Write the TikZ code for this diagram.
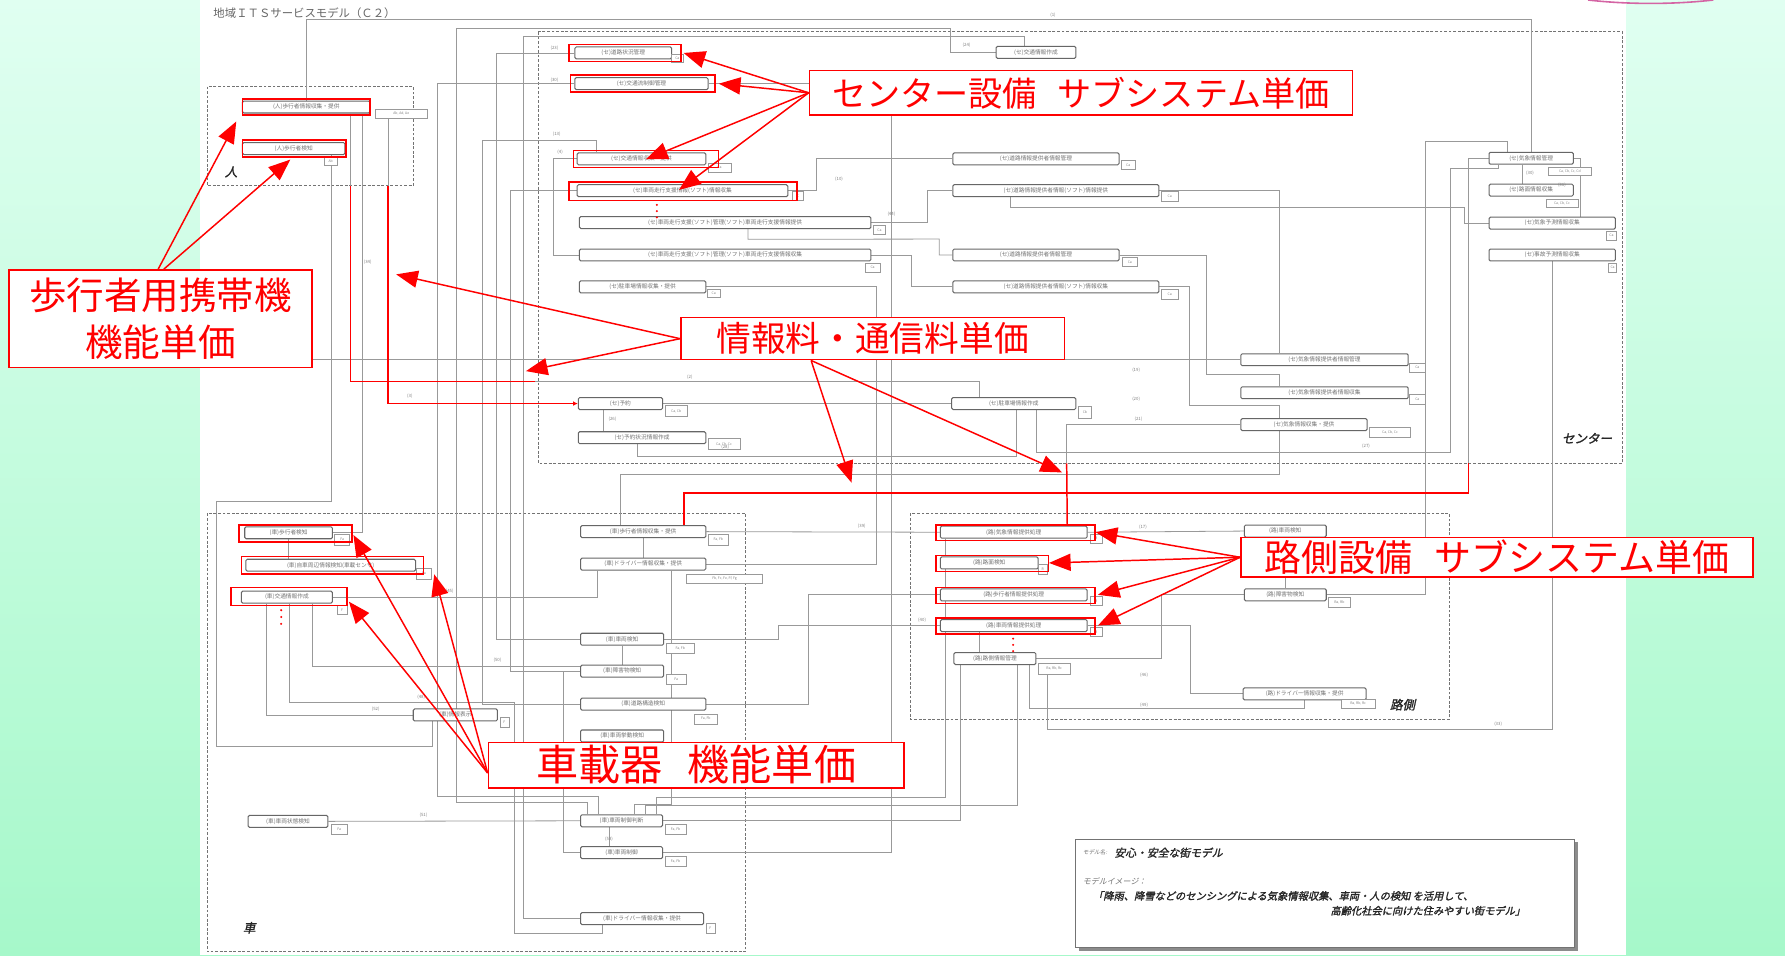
\documentclass[tikz,border=0pt]{standalone}
\usepackage{fontspec}
\setmainfont{Noto Sans CJK JP}
\newfontfamily\cjk{Noto Sans CJK JP}
\newfontfamily\cjksl[FakeSlant=0.22,FakeBold=1.6]{Noto Sans CJK JP}
\newfontfamily\cjkslt[FakeSlant=0.22]{Noto Sans CJK JP}
\usetikzlibrary{arrows.meta,shadows}
\definecolor{bgtop}{RGB}{224,255,241}
\definecolor{bgbot}{RGB}{166,248,202}
\pgfdeclarelayer{bg}\pgfdeclarelayer{wires}\pgfsetlayers{bg,wires,main}
\newcommand{\mknode}[5]{\node[fb,minimum width={#3pt-#2pt}] (#1) at ({(#2+#3)/2},#4) {#5};}
\newcommand{\mktag}[6]{\node[tg,minimum width={#3pt-#2pt},minimum height={#5pt-#4pt}] (#1) at ({(#2+#3)/2},{(#4+#5)/2}) {#6};}
\newcommand{\mkhl}[4]{\draw[hl] (#1,#2) rectangle (#3,#4);}
\tikzset{
  fb/.style={draw=black!60, line width=0.9pt, rounded corners=1.2pt, fill=white, minimum height=10.5pt, inner sep=0pt, font=\cjk\fontsize{5}{5}\selectfont, text=black!55},
  tg/.style={draw=black!40, line width=0.45pt, fill=white, inner sep=0pt, font=\cjk\fontsize{3}{3}\selectfont, text=black!50},
  ln/.style={draw=black!40, line width=0.7pt},
  rln/.style={draw=red, line width=1.3pt},
  hl/.style={draw=red, line width=1.3pt},
  rlab/.style={draw=red, line width=1.3pt, fill=white, text=red, inner sep=0pt},
  rar/.style={draw=red, line width=1.3pt, -{Triangle[length=19pt,width=15pt]}},
  region/.style={draw=black!55, line width=0.9pt, dash pattern=on 2.5pt off 1.5pt},
  lab/.style={font=\cjk\fontsize{3.8}{3.8}\selectfont, text=black!50, inner sep=0.5pt},
  zone/.style={font=\cjksl\fontsize{11}{11}\selectfont, text=black!85, inner sep=0pt}
}
\begin{document}
\begin{tikzpicture}[x=1pt,y=-1pt]
\useasboundingbox (0,0) rectangle (1568,839);
\begin{pgfonlayer}{bg}
\shade[top color=bgtop,bottom color=bgbot] (0,0) rectangle (1568,839);
\fill[white] (176,0) rectangle (1428,839);
\draw[magenta!55!violet!70, line width=1.4pt] (1395,0) .. controls (1430,4) and (1470,4) .. (1505,0);
\node[anchor=west, font=\cjk\fontsize{10}{10}\selectfont, text=black!60] (title) at (184,12) {地域ＩＴＳサービスモデル（Ｃ２）};
\draw[region] (182,76) rectangle (363,163);
\draw[region] (473,28) rectangle (1425,407);
\draw[region] (182,451) rectangle (655,836);
\draw[region] (800,451) rectangle (1273,632);
\node[zone] (zP) at (203,151) {人};
\node[zone] (zC) at (1394,385) {センター};
\node[zone] (zV) at (219,815) {車};
\node[zone] (zS) at (1232,619) {路側};
\end{pgfonlayer}

% ---------- person
\mknode{P1}{213}{325}{94}{(人)歩行者情報収集・提供}
\mknode{P2}{213}{303}{130.5}{(人)歩行者検知}
\mktag{tP1}{330}{375}{96}{104}{Ab, Ad, Ae}
\mktag{tP2}{285}{296}{138}{145}{Ab}
% ---------- center
\mknode{C1}{505}{590}{46.5}{(セ)道路状況管理}
\mknode{C2}{505}{622}{73.5}{(セ)交通流制御管理}
\mknode{C3}{507}{620}{139.5}{(セ)交通情報収集・提供}
\mknode{C4}{507}{692}{167.5}{(セ)車両走行支援情報(ソフト)情報収集}
\mknode{C5}{509}{765}{195.5}{(セ)車両走行支援(ソフト)管理(ソフト)車両走行支援情報提供}
\mknode{C6}{509}{765}{224}{(セ)車両走行支援(ソフト)管理(ソフト)車両走行支援情報収集}
\mknode{C7}{509}{620}{252}{(セ)駐車場情報収集・提供}
\mknode{C8}{508}{582}{354.5}{(セ)予約}
\mknode{C9}{508}{620}{384.5}{(セ)予約状況情報作成}
\mknode{C18}{875}{945}{46}{(セ)交通情報作成}
\mknode{C10}{837}{983}{139.5}{(セ)道路情報提供者情報管理}
\mknode{C11}{837}{1018}{167.5}{(セ)道路情報提供者情報(ソフト)情報提供}
\mknode{C12}{837}{983}{224}{(セ)道路情報提供者情報管理}
\mknode{C13}{837}{1018}{252}{(セ)道路情報提供者情報(ソフト)情報収集}
\mknode{C14}{836}{945}{354.5}{(セ)駐車場情報作成}
\mknode{C15}{1090}{1237}{316}{(セ)気象情報提供者情報管理}
\mknode{C16}{1090}{1237}{345}{(セ)気象情報提供者情報収集}
\mknode{C17}{1090}{1201}{373}{(セ)気象情報収集・提供}
\mknode{R1}{1308}{1382}{139}{(セ)気象情報管理}
\mknode{R2}{1308}{1382}{167}{(セ)路面情報収集}
\mknode{R3}{1308}{1419}{196}{(セ)気象予測情報収集}
\mknode{R4}{1308}{1419}{224}{(セ)事故予測情報収集}
\mktag{tC1}{590}{600}{48}{55}{Ca}
\mktag{tC3}{622}{642}{143}{151}{Ca}
\mktag{tC4}{696}{706}{168}{176}{C}
\mktag{tC5}{767}{778}{198}{206}{Ca}
\mktag{tC6}{760}{773}{231}{239}{Ca}
\mktag{tC7}{621}{633}{254}{261}{Ca}
\mktag{tC8}{584}{604}{356}{366}{Ca, Cb}
\mktag{tC9}{622}{650}{385}{395}{Ca, Cb, Cc}
\mktag{tC10}{985}{997}{141}{149}{Ca}
\mktag{tC11}{1020}{1035}{168}{177}{Ca}
\mktag{tC12}{986}{999}{226}{234}{Ca}
\mktag{tC13}{1020}{1035}{254}{263}{Ca}
\mktag{tC14}{947}{959}{357}{367}{Cb}
\mktag{tC15}{1238}{1252}{319}{327}{Ca}
\mktag{tC16}{1238}{1252}{346}{355}{Ca}
\mktag{tC17}{1203}{1239}{375}{384}{Ca, Cb, Cc}
\mktag{tR1}{1360}{1398}{147}{154}{Ca, Cb, Cc, Cd}
\mktag{tR2}{1358}{1386}{175}{182}{Ca, Cb, Cc}
\mktag{tR3}{1411}{1420}{203}{211}{Ca}
\mktag{tR4}{1413}{1420}{231}{239}{Ca}
% ---------- vehicle
\mknode{V1}{215}{292}{468}{(車)歩行者検知}
\mknode{V2}{216}{365}{496.5}{(車)自車周辺情報検知(車載センサ)}
\mknode{V3}{212}{292}{524.5}{(車)交通情報作成}
\mknode{V4}{363}{437}{628}{(車)情報表示}
\mknode{V5}{218}{288}{721.5}{(車)車両状態検知}
\mknode{V6}{510}{620}{467}{(車)歩行者情報収集・提供}
\mknode{V7}{510}{620}{495.5}{(車)ドライバー情報収集・提供}
\mknode{V8}{510}{583}{561.5}{(車)車両検知}
\mknode{V9}{510}{583}{589.5}{(車)障害物検知}
\mknode{V10}{510}{620}{618.5}{(車)道路構造検知}
\mknode{V11}{510}{583}{646.5}{(車)車両挙動検知}
\mknode{V12}{510}{582}{721}{(車)車両制御判断}
\mknode{V13}{510}{582}{749}{(車)車両制御}
\mknode{V14}{510}{618}{807}{(車)ドライバー情報収集・提供}
\mktag{tV1}{294}{307}{469}{479}{Fa}
\mktag{tV2}{366}{379}{499}{509}{Fa}
\mktag{tV3}{296}{305}{532}{540}{F}
\mktag{tV4}{439}{447}{630}{639}{F}
\mktag{tV5}{291}{305}{724}{733}{Fa}
\mktag{tV6}{622}{640}{469}{479}{Fa, Fb}
\mktag{tV7}{603}{670}{504}{512}{Fb, Fc, Fe, Ff, Fg}
\mktag{tV8}{585}{610}{565}{574}{Fa, Fb}
\mktag{tV9}{585}{603}{592}{601}{Fa}
\mktag{tV10}{610}{630}{627}{636}{Fa, Fb}
\mktag{tV12}{584}{603}{724}{733}{Fa, Fb}
\mktag{tV13}{584}{603}{752}{761}{Fa, Fb}
\mktag{tV14}{620}{628}{811}{820}{F}
% ---------- roadside
\mknode{S1}{826}{955}{467.5}{(路)気象情報提供処理}
\mknode{S2}{826}{912}{494.5}{(路)路面検知}
\mknode{S3}{826}{955}{522.5}{(路)歩行者情報提供処理}
\mknode{S4}{826}{955}{549.5}{(路)車両情報提供処理}
\mknode{S5}{838}{910}{578.5}{(路)路側情報管理}
\mknode{S6}{1093}{1165}{466.5}{(路)車両検知}
\mknode{S7}{1093}{1165}{522.5}{(路)障害物検知}
\mknode{S8}{1092}{1200}{609.5}{(路)ドライバー情報収集・提供}
\mktag{tS1}{958}{968}{469}{477}{R}
\mktag{tS2}{912}{920}{496}{504}{R}
\mktag{tS3}{958}{968}{524}{532}{R}
\mktag{tS4}{958}{968}{551}{559}{R}
\mktag{tS5}{912}{940}{583}{592}{Ra, Rb, Rc}
\mktag{tS7}{1167}{1186}{525}{533}{Ra, Rb}
\mktag{tS8}{1178}{1208}{614}{622}{Ra, Rb, Rc}

% ---------- gray connectors
\coordinate (rA) at (1290,407);
\coordinate (rB) at (937,407);
\coordinate (pb1) at (308,163);
\coordinate (pb2) at (341,163);
\coordinate (r1e) at (470,335);
\coordinate (hidA) at (250,316);
\begin{pgfonlayer}{wires}
\draw[ln] (P1.north) -- ++(0,-71) -| (R1.north);
\draw[ln] (C18.west) -- ++(-40,0) |- (401,25) -- (401,705) -| ([xshift=-30]V12.north);
\draw[ln] (V14.west) -| (460,32) -| ([xshift=-10]C18.north);
\draw[ln] (C1.west) -| (436,561.5) -- (V8.west);
\draw[ln] (C2.west) -| (384,700) -| ([xshift=-20]V12.north);
\draw[ln] (C3.west) -- ++(-20,0) |- (C6.west);
\draw[ln] (V10.west) -| (424,123) -| ([xshift=-40]C3.north);
\draw[ln] (C4.west) -| (448,589.5) -- (V9.west);
\draw[ln] (C5.east) -| (815,167.5) -- (C11.west);
\draw[ln] (C4.east) -- ++(25,0) |- (C10.west);
\draw[ln] (C6.east) -- ++(35,0) |- (C13.west);
\draw[ln] ([xshift=20]C5.south) -- ++(0,9) -- (825,210) |- (C12.west);
\draw[ln] (C7.east) -| (770,495.5) -- (V7.east);
\draw[ln] (C2.east) -| (783,749) -- (V13.east);
\draw[ln] (C8.east) -- (C14.west);
\draw[ln] ([xshift=-15]C8.south) -- ([xshift=-15]C8.south |- C9.north);
\draw[ln] ([xshift=-4]C9.south) -- ++(0,11) -| ([xshift=2.5]C14.south);
\draw[ln] (C11.east) -| ([xshift=-39.5]C15.north);
\draw[ln] ([xshift=-40]C11.south) |- (1286,182) |- (R3.west);
\draw[ln] (C12.east) -| (1060,329) -| ([xshift=-39.5]C16.north);
\draw[ln] (C13.east) -| (1045,356) -| ([xshift=-21.5]C17.north);
\draw[ln] ([xshift=-21.5]C17.south) -- ++(0,38) -| ([xshift=-20]V6.north);
\draw[ln] (R1.west) -| (rA);
\draw[ln] ([xshift=-21]R1.north) -- ++(0,-9) -| (1252,522.5) -- (S7.east);
\draw[ln] ([xshift=-8]R1.south) -- ([xshift=-8]R1.south |- R2.north);
\draw[ln] ([xshift=-29]R1.south) -- ++(0,3) -| (1274,397) -| ([xshift=20]C14.south);
\draw[ln] (R1.east) -| ([xshift=24.5]R3.north);
\draw[ln] (R4.south) |- (920,641) -- ([xshift=46]S5.south);
\draw[ln] (hidA) -- (C15.west);
\draw[ln] (C17.west) -| (rB);
\draw[ln] ([xshift=39]P1.south) -- (pb1);
\draw[ln] ([xshift=72]P1.south) -- (pb2);
\draw[ln] (r1e) -| ([xshift=-30]C14.north);
\draw[ln] ([xshift=49]P1.south) |- (V1.east);
\draw[ln] ([xshift=-20]V4.south) -- ++(0,22) -| (190,440) -| ([xshift=33]P2.south);
\draw[ln] (V1.south) -- (V1.south |- V2.north);
\draw[ln] (V3.east) -| ([xshift=-40]V7.south);
\draw[ln] ([xshift=22]V3.south) -- ++(0,55) -| (V8.south);
\draw[ln] ([xshift=2]V3.south) |- (452,617) -- (452,820) -| ([xshift=-35]V14.south);
\draw[ln] ([xshift=-18]V3.south) |- (V4.west);
\draw[ln] (V5.east) -- (V12.west);
\draw[ln] ([xshift=-11]V12.south) -- ([xshift=-11]V12.south |- V13.north);
\draw[ln] (V12.east) -| ([xshift=-30]S5.south);
\draw[ln] ([xshift=-60]S4.south) -- ++(0,145) -| ([xshift=31]V12.north);
\draw[ln] ([xshift=20]S5.south) -- ++(0,123) -| ([xshift=21]V12.north);
\draw[ln] (V6.south) -- (V7.north);
\draw[ln] ([xshift=25]V7.south) -- ++(0,205) -| ([xshift=11]V12.north);
\draw[ln] (V8.east) -- ++(100,0) |- (S4.west);
\draw[ln] (V9.west) -- ++(-15,0) |- (V13.west);
\draw[ln] (V6.east) -- (S1.west);
\draw[ln] (V10.east) -- ++(90,0) |- (S3.west);
\draw[ln] ([xshift=-60]S1.south) -- ([xshift=-60]S1.south |- S2.north);
\draw[ln] ([xshift=-38.5]S2.south) -- ([xshift=-38.5]S2.south |- S3.north);
\draw[ln] ([xshift=-60]S3.south) -- ([xshift=-60]S3.south |- S4.north);
\draw[ln] ([xshift=-30]S4.south) -- ([xshift=-30]S4.south |- S5.north);
\draw[ln] (S6.west) -- (S1.east);
\draw[ln] (S5.east) -- ++(110,0) |- (S7.west);
\draw[ln] ([xshift=30]S5.south) -- ++(0,38) -| (S8.south);
\draw[ln] (S4.east) -- ++(90,0) |- (S8.west);
\draw[ln] (S6.south) -- (S7.north);
\end{pgfonlayer}

% ---------- small line labels
\node[lab] (n1) at (925,13) {(1)};
\node[lab] (n24) at (849,40) {(24)};
\node[lab] (n23) at (487,42) {(23)};
\node[lab] (n30) at (487,70) {(30)};
\node[lab] (n13) at (489,118) {(13)};
\node[lab] (n4) at (492,134) {(4)};
\node[lab] (n34) at (323,230) {(34)};
\node[lab] (n3) at (360,348) {(3)};
\node[lab] (n2) at (606,331) {(2)};
\node[lab] (n26) at (538,368) {(26)};
\node[lab] (n28) at (637,393) {(28)};
\node[lab] (n17) at (1004,463) {(17)};
\node[lab] (n39) at (757,462) {(39)};
\node[lab] (n45) at (395,519) {(45)};
\node[lab] (n50) at (437,580) {(50)};
\node[lab] (n48) at (370,612) {(48)};
\node[lab] (n52) at (330,623) {(52)};
\node[lab] (n51) at (372,716) {(51)};
\node[lab] (n53) at (535,737) {(53)};
\node[lab] (n33) at (1316,636) {(33)};
\node[lab] (n30b) at (1344,152) {(30)};
\node[lab] (n31) at (1372,163) {(31)};
\node[lab] (n27) at (1200,392) {(27)};
\node[lab] (n19) at (998,325) {(19)};
\node[lab] (n20) at (998,351) {(20)};
\node[lab] (n21) at (1000,368) {(21)};
\node[lab] (n44) at (783,188) {(44)};
\node[lab] (n10) at (737,157) {(10)};
\node[lab] (n40) at (810,545) {(40)};
\node[lab] (n46) at (1005,593) {(46)};
\node[lab] (n49) at (1005,619) {(49)};

% ---------- red wiring
\draw[rln] (pb1) |- (r1e);
\draw[rln,-{Latex[length=4pt,width=4pt]}] (pb2) |- (C8.west);
\draw[rln] (rA) |- (601,433) -- ([xshift=36]V6.north);
\draw[rln] (rB) -- ([xshift=47]S1.north);
% red dots
\foreach \yy in {180,185.5,191} \fill[red] (577,\yy) circle (1pt);
\foreach \yy in {536,542,548} \fill[red] (247,\yy) circle (1pt);
\foreach \yy in {561,566.5,572} \fill[red] (890,\yy) circle (1pt);
% highlights
\mkhl{213}{87}{325}{101}
\mkhl{213}{123}{304}{138}
\mkhl{500}{39}{598}{54}
\mkhl{501}{66}{628}{81}
\mkhl{504}{132}{631}{147}
\mkhl{500}{160}{700}{176}
\mkhl{210}{461}{309}{476}
\mkhl{212}{489}{372}{504}
\mkhl{203}{516}{305}{532}
\mkhl{822}{461}{962}{475}
\mkhl{822}{488}{921}{502}
\mkhl{822}{516}{962}{530}
\mkhl{822}{543}{962}{557}

% ---------- info box
\node[draw=black!55, line width=0.8pt, fill=white, minimum width=438pt, minimum height=95pt, drop shadow={shadow xshift=3pt,shadow yshift=-3pt,fill=black!45,opacity=1}] (info) at (1164,784.5) {};
\node[anchor=west, font=\cjkslt\fontsize{5}{5}\selectfont, text=black!55, inner sep=0pt] (i1) at (951,749) {モデル名:};
\node[anchor=west, font=\cjksl\fontsize{9.5}{9.5}\selectfont, text=black!85, inner sep=0pt] (i2) at ([xshift=6]i1.east) {安心・安全な街モデル};
\node[anchor=west, font=\cjkslt\fontsize{7}{7}\selectfont, text=black!55, inner sep=0pt] (i3) at (951,774) {モデルイメージ：};
\node[anchor=west, font=\cjksl\fontsize{9}{9}\selectfont, text=black!85, inner sep=0pt] (i4) at (960,787) {「降雨、降雪などのセンシングによる気象情報収集、車両・人の検知 を活用して、};
\node[anchor=east, font=\cjksl\fontsize{9}{9}\selectfont, text=black!85, inner sep=0pt] (i5) at (1340,800) {高齢化社会に向けた住みやすい街モデル」};

% ---------- red labels and arrows
\node[rlab, font=\cjk\fontsize{30}{36}\selectfont, minimum width=477pt, minimum height=39pt] (Lc) at (949.5,81.5) {センター設備\hspace{0.6em}サブシステム単価};
\node[rlab, font=\cjk\fontsize{33}{41}\selectfont, minimum width=266pt, minimum height=86pt, align=center] (Lp) at (141,280) {歩行者用携帯機\\機能単価};
\node[rlab, font=\cjk\fontsize{30.5}{36}\selectfont, minimum width=337pt, minimum height=37pt] (Li) at (766.5,297.5) {情報料・通信料単価};
\node[rlab, font=\cjk\fontsize{32.5}{36}\selectfont, minimum width=450pt, minimum height=35pt] (Ls) at (1315,489.5) {路側設備\hspace{0.6em}サブシステム単価};
\node[rlab, font=\cjk\fontsize{37}{40}\selectfont, minimum width=365pt, minimum height=40pt] (Lv) at (611.5,672) {車載器\hspace{0.6em}機能単価};
\coordinate (ti1) at (348,241);
\coordinate (ti2) at (462,326);
\coordinate (ti3) at (748,424);
\coordinate (ti4) at (933,415);
\draw[rar] (Lc.west) -- ([xshift=10]C1.east);
\draw[rar] (Lc.west) -- ([xshift=9]C2.east);
\draw[rar] (Lc.west) -- ([xshift=4,yshift=-6]C3.north);
\draw[rar] (Lc.west) -- ([xshift=-3,yshift=-5]C4.north);
\draw[rar] ([xshift=-2]Lp.north) -- ([shift={(-5,7)}]P1.south west);
\draw[rar] ([xshift=3]Lp.north) -- ([shift={(-3,4)}]P2.south);
\draw[rar] (Li.west) -- (ti1);
\draw[rar] (Li.west) -- (ti2);
\draw[rar] ([xshift=-54]Li.south) -- (ti3);
\draw[rar] ([xshift=-54]Li.south) -- (ti4);
\draw[rar] (Ls.west) -- ([xshift=7]S1.east);
\draw[rar] (Ls.west) -- ([xshift=9]S2.east);
\draw[rar] (Ls.west) -- ([xshift=9]S3.east);
\draw[rar] (Ls.west) -- ([xshift=9]S4.east);
\draw[rar] ([yshift=-7]Lv.west) -- ([shift={(18,2)}]V1.east);
\draw[rar] ([yshift=-7]Lv.west) -- ([shift={(16,8)}]V2.east);
\draw[rar] ([yshift=-7]Lv.west) -- ([shift={(14,4)}]V3.east);
\end{tikzpicture}
\end{document}
